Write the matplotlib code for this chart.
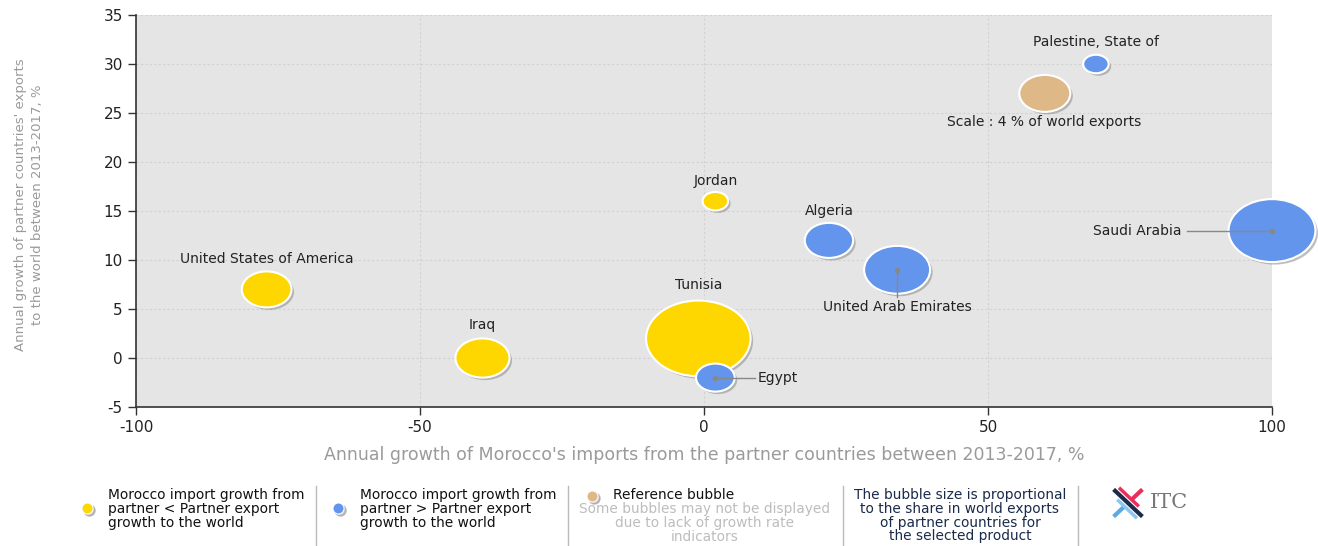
import numpy as np
import matplotlib
matplotlib.use("Agg")
from matplotlib import pyplot as plt
from matplotlib.patches import Ellipse

plt.rcParams["axes.unicode_minus"] = False

# data
countries = ["United States of America", "Iraq", "Tunisia", "Jordan", "Egypt",
             "Algeria", "United Arab Emirates", "Saudi Arabia", "Palestine, State of"]
import_growth = [-77, -39, -1, 2, 2, 22, 34, 100, 69]
export_growth = [7, 0, 2, 16, -2, 12, 9, 13, 30]
world_share = [3.8, 4.5, 16.8, 1.0, 2.3, 3.6, 6.7, 11.6, 1.0]
group = ["low", "low", "low", "low", "high", "high", "high", "high", "high"]

ref_x, ref_y, ref_share = 60, 27, 4.0

colors = {"low": "#FFD700", "high": "#6495ED", "ref": "#DEB887"}

W, H = 1318, 546
fig = plt.figure(figsize=(W / 100, H / 100), dpi=100)
ax = fig.add_axes([136 / W, 1 - 407 / H, (1272 - 136) / W, (407 - 15) / H])
ax.set_xlim(-100, 100)
ax.set_ylim(-5, 35)
ax.set_facecolor("#E5E5E5")

px_x = (1272 - 136) / 200.0
px_y = (407 - 15) / 40.0


def bubble(x, y, share, color):
    w = 51 * np.sqrt(share / 4.0)
    h = w / 1.38
    sh = Ellipse((x + 2.5 / px_x, y - 2.5 / px_y), w / px_x, h / px_y,
                 facecolor="#8a8a8a", edgecolor="none", alpha=0.55, zorder=3,
                 clip_on=False)
    ax.add_patch(sh)
    e = Ellipse((x, y), w / px_x, h / px_y, facecolor=color,
                edgecolor="white", linewidth=1.5, zorder=4, clip_on=False)
    ax.add_patch(e)


# larger bubbles first so the small ones stay on top
order = np.argsort(world_share)[::-1]
for i in order:
    bubble(import_growth[i], export_growth[i], world_share[i], colors[group[i]])
bubble(ref_x, ref_y, ref_share, colors["ref"])

lab = dict(fontsize=10, color="#222222", zorder=6)
label_pos = {
    "United States of America": (-77, 10.1, "center"),
    "Iraq": (-39, 3.4, "center"),
    "Tunisia": (-1, 7.4, "center"),
    "Jordan": (2, 18.1, "center"),
    "Algeria": (22, 15.0, "center"),
    "United Arab Emirates": (34, 5.2, "center"),
    "Saudi Arabia": (84, 13, "right"),
    "Egypt": (9.5, -2, "left"),
    "Palestine, State of": (69, 32.2, "center"),
}
for name, xx, yy in zip(countries, import_growth, export_growth):
    lx, ly, ha = label_pos[name]
    ax.text(lx, ly, name, ha=ha, va="center", **lab)
ax.text(59.8, 24.1, "Scale : 4 % of world exports", ha="center", va="center", **lab)

# leader lines
ax.plot([85, 100], [13, 13], color="#888888", lw=1, zorder=5, clip_on=False)
ax.plot([100], [13], "o", color="#888888", ms=3, zorder=5, clip_on=False)
ax.plot([34, 34], [9, 6.2], color="#888888", lw=1, zorder=5)
ax.plot([34], [9], "o", color="#888888", ms=3, zorder=5)
ax.plot([2, 9], [-2, -2], color="#888888", lw=1, zorder=5)
ax.plot([2], [-2], "o", color="#888888", ms=3, zorder=5)

ax.set_xticks([-100, -50, 0, 50, 100])
ax.set_yticks(range(-5, 40, 5))
ax.grid(True, color="#D2D2D2", linestyle=(0, (2, 2)), linewidth=0.8, zorder=0)
ax.set_axisbelow(True)
for s in ["top", "right"]:
    ax.spines[s].set_visible(False)
for s in ["left", "bottom"]:
    ax.spines[s].set_color("#333333")
    ax.spines[s].set_linewidth(1.2)
ax.tick_params(labelsize=11, colors="#333333", length=6, width=1)
ax.tick_params(labelcolor="#222222")

fig.text(704 / W, 1 - 455 / H,
         "Annual growth of Morocco's imports from the partner countries between 2013-2017, %",
         ha="center", va="center", fontsize=12.5, color="#9a9a9a")
fig.text(29 / W, 1 - 205 / H,
         "Annual growth of partner countries' exports\nto the world between 2013-2017, %",
         ha="center", va="center", rotation=90, fontsize=9.5, color="#9a9a9a",
         linespacing=1.45)

# legend strip
for xs in [316, 568, 843, 1078]:
    fig.add_artist(plt.Line2D([xs / W, xs / W], [1 - 486 / H, 1 - 546 / H],
                              color="#bbbbbb", lw=1))


def dot(x, y, c):
    fig.add_artist(plt.Line2D([(x + 1.5) / W], [1 - (y + 1.5) / H], marker="o",
                              ms=8, color="#999999", alpha=0.6))
    fig.add_artist(plt.Line2D([x / W], [1 - y / H], marker="o", ms=8, color=c,
                              mec="white", mew=0.8))


leg = dict(fontsize=9.9, color="#111111", va="top", linespacing=0.98)
dot(87, 508, colors["low"])
fig.text(108 / W, 1 - 488 / H,
         "Morocco import growth from\npartner < Partner export\ngrowth to the world",
         ha="left", **leg)
dot(338, 508, colors["high"])
fig.text(360 / W, 1 - 488 / H,
         "Morocco import growth from\npartner > Partner export\ngrowth to the world",
         ha="left", **leg)
dot(592, 496, colors["ref"])
fig.text(613 / W, 1 - 488 / H, "Reference bubble", ha="left", **leg)
fig.text(705 / W, 1 - 502 / H,
         "Some bubbles may not be displayed\ndue to lack of growth rate\nindicators",
         ha="center", fontsize=9.9, color="#bdbdbd", va="top", linespacing=0.98)
fig.text(960 / W, 1 - 488 / H,
         "The bubble size is proportional\nto the share in world exports\nof partner countries for\nthe selected product",
         ha="center", fontsize=9.9, color="#1a2a4a", va="top", linespacing=0.98)

# ITC logo
lg = fig.add_axes([1110 / W, 1 - 520 / H, 36 / W, 34 / H])
lg.set_xlim(0, 10)
lg.set_ylim(0, 10)
lg.axis("off")
lg.plot([1, 4], [1, 4], color="#5aa9e6", lw=3, solid_capstyle="butt")
lg.plot([6, 9], [6, 9], color="#e8315a", lw=3, solid_capstyle="butt")
lg.plot([1, 9], [9, 1], color="#1c2b4a", lw=3, solid_capstyle="butt")
lg.plot([2.5, 8], [9.5, 4], color="#e8315a", lw=2.5, solid_capstyle="butt")
lg.plot([2, 7.5], [6, 0.5], color="#8fc8ee", lw=2.5, solid_capstyle="butt")
fig.text(1150 / W, 1 - 503 / H, "ITC", ha="left", va="center", fontsize=15,
         family="DejaVu Serif", color="#777777")

fig.savefig("out.png", dpi=100)
